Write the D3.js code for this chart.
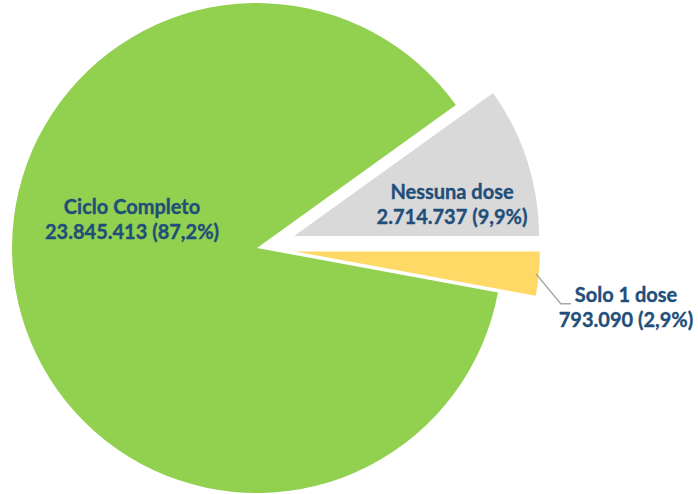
<!DOCTYPE html>
<html>
<head>
<meta charset="utf-8">
<script src="https://cdn.jsdelivr.net/npm/d3@7"></script>
<style>
  body { margin: 0; background: #fff; }
  text { font-family: Lato, "Open Sans", sans-serif; font-weight: bold; fill: #1f4e79; stroke: #1f4e79; stroke-width: 0.35px; }
</style>
</head>
<body>
<div id="chart"></div>
<script>
var categories = ['Nessuna dose', 'Solo 1 dose', 'Ciclo Completo'];
var values = [2714737, 793090, 23845413];
var percents = ['9,9%', '2,9%', '87,2%'];
var colors = ['#d9d9d9', '#ffd966', '#92d050'];

var w = 698, h = 494,
    cx = 257, cy = 248,
    r = 245,
    explode = [39, 38, 0],
    fontSize = 20;

// label centres, relative to the pie centre
var labelPos = [[195, -45], [369, 58], [-125, -30]];

var fmt = d3.formatLocale({ decimal: ',', thousands: '.', grouping: [3], currency: ['', ''] }).format(',d');

var svg = d3.select('#chart').append('svg')
  .attr('width', w)
  .attr('height', h);

var startAngle = Math.PI / 2 - 2 * Math.PI * values[0] / d3.sum(values);

var pie = d3.pie()
  .sort(null)
  .startAngle(startAngle)
  .endAngle(startAngle + 2 * Math.PI);

var arcs = pie(values);
var arc = d3.arc().innerRadius(0).outerRadius(r);

var g = svg.append('g').attr('transform', 'translate(' + cx + ',' + cy + ')');

g.selectAll('path').data(arcs).enter()
  .append('path')
  .attr('d', arc)
  .attr('fill', function(d, i) { return colors[i]; })
  .attr('transform', function(d, i) {
    var a = (d.startAngle + d.endAngle) / 2;
    return 'translate(' + (Math.sin(a) * explode[i]) + ',' + (-Math.cos(a) * explode[i]) + ')';
  });

// leader line for the small slice
var y = arcs[1], ya = (y.startAngle + y.endAngle) / 2;
var lx0 = Math.sin(ya) * (r + explode[1]) - 3, ly0 = -Math.cos(ya) * (r + explode[1]);
g.append('polyline')
  .attr('points', [[lx0, ly0], [lx0 + 25, ly0 + 30], [lx0 + 35, ly0 + 30]].map(function(p) { return p.join(','); }).join(' '))
  .attr('fill', 'none')
  .attr('stroke', '#a6a6a6')
  .attr('stroke-width', 1.3);

var labels = g.selectAll('g.lbl').data(arcs).enter()
  .append('g')
  .attr('class', 'lbl')
  .attr('transform', function(d, i) { return 'translate(' + labelPos[i][0] + ',' + labelPos[i][1] + ')'; });

labels.append('text')
  .attr('text-anchor', 'middle')
  .attr('y', -4)
  .attr('font-size', fontSize)
  .text(function(d, i) { return categories[i]; });

labels.append('text')
  .attr('text-anchor', 'middle')
  .attr('y', 21)
  .attr('font-size', fontSize)
  .text(function(d, i) { return fmt(values[i]) + ' (' + percents[i] + ')'; });
</script>
</body>
</html>
